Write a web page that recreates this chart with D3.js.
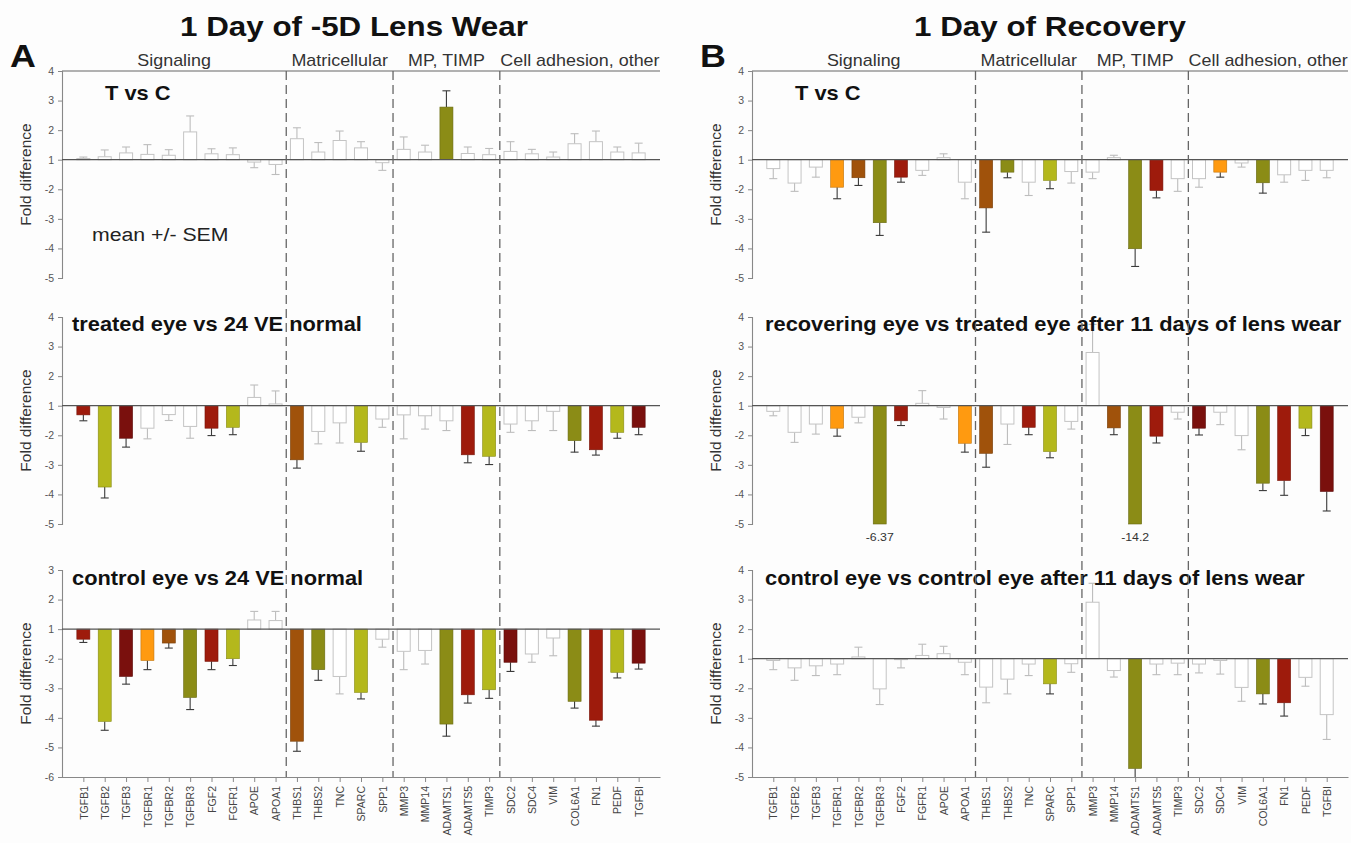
<!DOCTYPE html>
<html><head><meta charset="utf-8">
<script src="https://cdn.jsdelivr.net/npm/d3@7"></script>
<style>
body{margin:0;background:#fff}
text{font-family:"Liberation Sans",Arial,Helvetica,sans-serif}
</style></head>
<body><svg id="c" width="1351" height="843"></svg>
<script>
// ---------- DATA ----------
const genes = ["TGFB1","TGFB2","TGFB3","TGFBR1","TGFBR2","TGFBR3","FGF2","FGFR1","APOE","APOA1",
  "THBS1","THBS2","TNC","SPARC","SPP1","MMP3","MMP14","ADAMTS1","ADAMTS5","TIMP3",
  "SDC2","SDC4","VIM","COL6A1","FN1","PEDF","TGFBI"];
const groupNames = ["Signaling","Matricellular","MP, TIMP","Cell adhesion, other"];
const groupSizes = [10,5,5,7];
const columnTitles = ["1 Day of -5D Lens Wear","1 Day of Recovery"];
const columnLetters = ["A","B"];
const panelTitlesA = ["T vs C","treated eye vs 24 VE normal","control eye vs 24 VE normal"];
const panelTitlesB = ["T vs C","recovering eye vs treated eye after 11 days of lens wear","control eye vs control eye after 11 days of lens wear"];
const yTicksStd = [4,3,2,1,-2,-3,-4,-5];
const yTicksLow = [3,2,1,-2,-3,-4,-5,-6];
const noteText = "mean +/- SEM";
const yLabel = "Fold difference";

// significance codes: n = not significant (open bar); others = colour class
const aTopMean = [1.04,1.1,1.23,1.18,1.15,1.94,1.2,1.17,-1.08,-1.16, 1.71,1.26,1.65,1.4,-1.1, 1.35,1.26,2.78,1.21,1.17, 1.28,1.2,1.09,1.54,1.61,1.26,1.23];
const aTopSem  = [0.05,0.23,0.2,0.33,0.19,0.54,0.17,0.23,0.19,0.34, 0.37,0.32,0.32,0.21,0.26, 0.42,0.23,0.55,0.22,0.21, 0.33,0.15,0.17,0.34,0.36,0.17,0.33];
const aTopSig  = ["n","n","n","n","n","n","n","n","n","n","n","n","n","n","n","n","n","o","n","n","n","n","n","n","n","n","n"];

const aMidMean = [-1.31,-3.75,-2.1,-1.76,-1.3,-1.7,-1.76,-1.73,1.28,1.06, -2.83,-1.87,-1.58,-2.24,-1.45, -1.31,-1.34,-1.51,-2.66,-2.71, -1.62,-1.51,-1.19,-2.18,-2.49,-1.9,-1.73];
const aMidSem  = [0.2,0.37,0.3,0.36,0.2,0.4,0.25,0.25,0.42,0.44, 0.28,0.42,0.68,0.3,0.28, 0.81,0.45,0.33,0.27,0.28, 0.28,0.33,0.65,0.39,0.18,0.2,0.25];
const aMidSig  = ["r","y","m","n","n","n","r","y","n","n","b","n","n","y","n","n","n","n","r","y","n","n","n","o","r","y","m"];

const aBotMean = [-1.34,-4.12,-2.6,-2.06,-1.47,-3.31,-2.09,-2.0,1.31,1.29, -4.79,-2.37,-2.6,-3.14,-1.34, -1.75,-1.72,-4.21,-3.22,-3.05, -2.12,-1.84,-1.3,-3.44,-4.08,-2.46,-2.15];
const aBotSem  = [0.11,0.3,0.26,0.31,0.17,0.41,0.28,0.23,0.29,0.31, 0.34,0.36,0.59,0.22,0.27, 0.62,0.46,0.41,0.28,0.29, 0.31,0.28,0.6,0.23,0.2,0.19,0.2];
const aBotSig  = ["r","y","m","or","b","o","r","y","n","n","b","o","n","y","n","n","n","o","r","y","m","n","n","o","r","y","m"];

const bTopMean = [-1.3,-1.79,-1.25,-1.93,-1.61,-3.13,-1.59,-1.36,1.07,-1.76, -2.63,-1.42,-1.76,-1.7,-1.4, -1.42,1.07,-4.01,-2.04,-1.64, -1.64,-1.42,-1.11,-1.78,-1.51,-1.36,-1.36];
const bTopSem  = [0.34,0.28,0.34,0.39,0.26,0.43,0.17,0.17,0.13,0.56, 0.82,0.19,0.45,0.28,0.39, 0.22,0.08,0.6,0.25,0.43, 0.29,0.17,0.14,0.35,0.25,0.34,0.25];
const bTopSig  = ["n","n","n","or","b","o","r","n","n","n","b","o","n","y","n","n","n","o","r","n","n","or","n","o","n","n","n"];

const bMidMean = [-1.19,-1.9,-1.62,-1.76,-1.39,-6.37,-1.51,1.08,-1.06,-2.27, -2.61,-1.62,-1.73,-2.55,-1.53, 2.8,-1.75,-14.2,-2.03,-1.22, -1.76,-1.22,-2.01,-3.62,-3.53,-1.76,-3.9];
const bMidSem  = [0.15,0.34,0.34,0.27,0.19,0,0.16,0.43,0.39,0.3, 0.47,0.69,0.25,0.21,0.26, 0.95,0.23,0,0.23,0.23, 0.23,0.42,0.48,0.25,0.5,0.25,0.66];
const bMidSig  = ["n","n","n","or","n","o","r","n","n","or","b","n","r","y","n","n","b","o","r","n","m","n","n","o","r","y","m"];

const bBotMean = [-1.06,-1.31,-1.24,-1.18,1.06,-2.02,-1.03,1.11,1.17,-1.12, -1.96,-1.69,-1.18,-1.85,-1.17, 2.91,-1.4,-4.71,-1.18,-1.15, -1.18,-1.06,-1.97,-2.19,-2.49,-1.63,-2.89];
const bBotSem  = [0.31,0.42,0.33,0.36,0.33,0.53,0.28,0.38,0.25,0.42, 0.53,0.5,0.39,0.34,0.29, 0.64,0.22,0.35,0.36,0.39, 0.3,0.46,0.47,0.34,0.45,0.3,0.84];
const bBotSig  = ["n","n","n","n","n","n","n","n","n","n","n","n","n","y","n","n","n","o","n","n","n","n","n","o","r","n","n"];

// ---------- STYLE ----------
const palette = {r:"#9e1b0c", m:"#7a100d", y:"#b4b81c", o:"#8b8c16", or:"#ff9a10", b:"#a0520b"};
const FONT_TITLE = 28, FONT_PANEL = 19.5, FONT_GROUP = 16, FONT_TICK = 10.5, FONT_XLAB = 10.5, FONT_YLAB = 15.5;
const SX = 1.12; // horizontal stretch of lettering in the original figure

const svg = d3.select("#c");
svg.append("rect").attr("width",1351).attr("height",843).attr("fill","#fdfdfd");

function label(parent, x, y, str, size, opts = {}) {
  return parent.append("text")
    .attr("transform", `translate(${x},${y}) scale(${SX},1)`)
    .attr("text-anchor", opts.anchor || "start")
    .attr("font-size", size)
    .attr("font-weight", opts.bold ? "bold" : "normal")
    .attr("fill", opts.fill || "#111")
    .text(str);
}

const rowTops = [71, 317, 570];
const panelH = 207;
const f = v => v >= 1 ? v - 1 : v + 1;           // fold value -> plotted position
const fInv = t => t >= 0 ? t + 1 : t - 1;

const columns = [
  {x0:62, x1:660, title:columnTitles[0], letter:columnLetters[0], titles:panelTitlesA,
   panels:[[aTopMean,aTopSem,aTopSig,yTicksStd],[aMidMean,aMidSem,aMidSig,yTicksStd],[aBotMean,aBotSem,aBotSig,yTicksLow]],
   titleX:354, letterX:10, titleDx:10},
  {x0:752, x1:1348, title:columnTitles[1], letter:columnLetters[1], titles:panelTitlesB,
   panels:[[bTopMean,bTopSem,bTopSig,yTicksStd],[bMidMean,bMidSem,bMidSig,yTicksStd],[bBotMean,bBotSem,bBotSig,yTicksStd]],
   titleX:1050, letterX:700, titleDx:13}
];

// group boundaries from sizes
const bounds = [];
{ let c = 0; groupSizes.forEach(s => { c += s; bounds.push(c + 0.5); }); }
const nCat = genes.length;

columns.forEach(col => {
  const x = d3.scaleLinear().domain([0, nCat + 1]).range([col.x0, col.x1]);
  const unit = x(1) - x(0);
  const bw = unit * 0.61;

  // column title & letter
  label(svg, col.titleX, 36, col.title, FONT_TITLE, {anchor:"middle", bold:true});
  label(svg, col.letterX, 67, col.letter, 32, {bold:true});

  // group labels
  let start = 0;
  groupNames.forEach((gname, gi) => {
    const end = gi === groupNames.length - 1 ? nCat + 1 : bounds[gi];
    label(svg, x((start + end) / 2), 66, gname, FONT_GROUP, {anchor:"middle", fill:"#333"});
    start = end;
  });

  // top border line
  svg.append("line").attr("x1", col.x0).attr("x2", col.x1).attr("y1", rowTops[0]).attr("y2", rowTops[0])
    .attr("stroke","#666").attr("stroke-width",1.2);

  col.panels.forEach((p, ri) => {
    const [means, sems, sigs, ticks] = p;
    const dom = [f(d3.min(ticks)), f(d3.max(ticks))];
    const top = rowTops[ri], bot = top + panelH;
    const y = d3.scaleLinear().domain(dom).range([bot, top]);
    const g = svg.append("g");

    // y axis
    const ya = g.append("g").attr("transform", `translate(${col.x0},0)`)
      .call(d3.axisLeft(y).tickValues(ticks.map(f)).tickFormat(t => fInv(t)).tickSize(4).tickPadding(4));
    ya.select(".domain").attr("stroke","#888").attr("stroke-width",1.1);
    ya.selectAll(".tick line").attr("stroke","#888");
    ya.selectAll(".tick text").attr("fill","#555").attr("font-size",FONT_TICK)
      .attr("font-family",'"Liberation Sans",Arial,sans-serif');

    // y label
    g.append("text").attr("transform", `translate(${col.x0 - 31},${(top + bot) / 2}) rotate(-90)`)
      .attr("text-anchor","middle").attr("font-size",FONT_YLAB).attr("fill","#333").text(yLabel);

    // bottom axis for last row
    if (ri === 2) {
      const xa = g.append("g").attr("transform", `translate(0,${bot})`)
        .call(d3.axisBottom(x).tickValues(d3.range(1, nCat + 1)).tickFormat(i => genes[i - 1]).tickSize(5).tickSizeOuter(0));
      xa.select(".domain").attr("stroke","#888").attr("stroke-width",1.1);
      xa.selectAll(".tick line").attr("stroke","#888");
      xa.selectAll(".tick text").attr("fill","#444").attr("font-size",FONT_XLAB)
        .attr("font-family",'"Liberation Sans",Arial,sans-serif')
        .attr("transform","rotate(-90)").attr("text-anchor","end")
        .attr("x",-9).attr("y",0).attr("dy","0.35em");
    }

    // bars
    means.forEach((v, i) => {
      const t = f(v);
      const tc = Math.max(dom[0], Math.min(dom[1], t));
      const cx = x(i + 1);
      const sig = sigs[i];
      const open = sig === "n";
      const fill = open ? "#ffffff" : palette[sig];
      const stroke = open ? "#c4c4c4" : d3.color(palette[sig]).darker(0.8).formatHex();
      const y0 = y(0), yv = y(tc);
      const s = sems[i];
      if (s > 0 && t === tc) {
        const dir = t >= 0 ? 1 : -1;
        const te = t + dir * s;
        const tec = Math.max(dom[0], Math.min(dom[1], te));
        const ec = open ? "#bdbdbd" : "#3a3a3a";
        g.append("line").attr("x1",cx).attr("x2",cx).attr("y1",yv).attr("y2",y(tec))
          .attr("stroke",ec).attr("stroke-width",1.1);
        if (te === tec) {
          g.append("line").attr("x1",cx - 4).attr("x2",cx + 4).attr("y1",y(tec)).attr("y2",y(tec))
            .attr("stroke",ec).attr("stroke-width",1.1);
        }
      }
      g.append("rect").attr("x", cx - bw / 2).attr("y", Math.min(y0, yv))
        .attr("width", bw).attr("height", Math.max(0.5, Math.abs(yv - y0)))
        .attr("fill", fill).attr("stroke", stroke).attr("stroke-width", open ? 1 : 0.6);
      if (t < dom[0]) {
        label(g, cx, bot + 17, String(v), 11, {anchor:"middle", fill:"#333"});
      }
    });

    // baseline
    g.append("line").attr("x1", col.x0).attr("x2", col.x1).attr("y1", y(0)).attr("y2", y(0))
      .attr("stroke","#555").attr("stroke-width",1.3);

    // panel title
    const tx = ri === 0 ? col.x0 + 43 : col.x0 + col.titleDx;
    const ty = ri === 0 ? 100 : (ri === 1 ? 331 : 585);
    label(g, tx, ty, col.titles[ri], FONT_PANEL, {bold:true});

    if (col === columns[0] && ri === 0) {
      label(g, col.x0 + 30, y(-2.5) + 7, noteText, 19, {fill:"#222"});
    }
  });

  // dashed group separators
  bounds.slice(0, -1).forEach(b => {
    svg.append("line").attr("x1", x(b)).attr("x2", x(b)).attr("y1", rowTops[0]).attr("y2", rowTops[2] + panelH)
      .attr("stroke","#666").attr("stroke-width",1.3).attr("stroke-dasharray","9,5");
  });
});
</script></body></html>
